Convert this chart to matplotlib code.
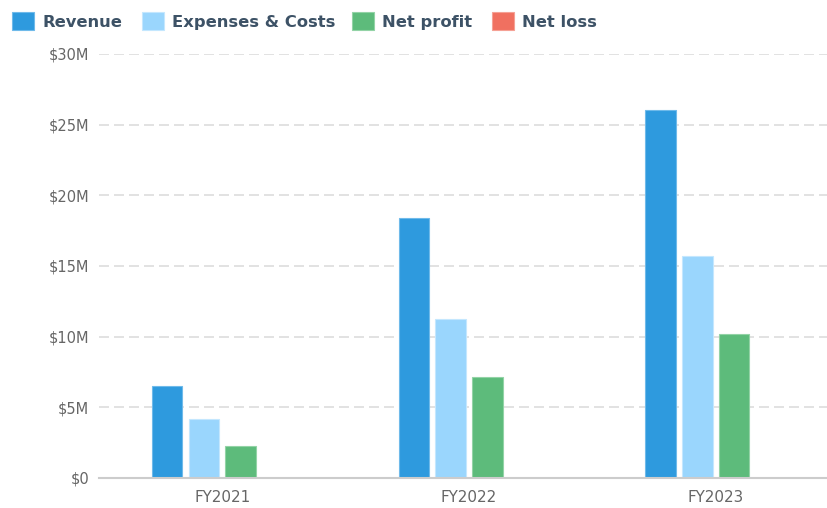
import numpy as np
import matplotlib.pyplot as plt
from matplotlib.patches import Rectangle
from matplotlib.ticker import FuncFormatter

plt.rcParams['font.family'] = ['DejaVu Sans']

# Values in millions of dollars
years = ['FY2021', 'FY2022', 'FY2023']
revenue = [6.5, 18.4, 26.05]
expenses = [4.17, 11.28, 15.72]
net_profit = [2.27, 7.15, 10.2]
net_loss = [0, 0, 0]

series = ['Revenue', 'Expenses & Costs', 'Net profit', 'Net loss']
colors = ['#2E9ADE', '#9AD6FD', '#5DBB7B', '#F07060']
edges = ['#6FBAEA', '#C4E7FE', '#93D3A6', '#F5A195']

W, H = 828, 508
fig = plt.figure(figsize=(W / 100, H / 100), dpi=100)
# the band scale runs slightly past the right edge of the picture
ax = fig.add_axes([99 / W, 1 - 478 / H, 740 / W, (478 - 54) / H])

x = np.arange(len(years))
slot = 0.149
width = 0.124
for i, vals in enumerate([revenue, expenses, net_profit, net_loss]):
    ax.bar(x + (i - 1.5) * slot, vals, width, color=colors[i], edgecolor=edges[i],
           linewidth=0.8, zorder=3)

ax.set_xlim(-0.5, 2.5)
ax.set_ylim(0, 30)
ax.set_yticks(range(0, 31, 5))
ax.yaxis.set_major_formatter(FuncFormatter(lambda v, p: '$0' if v == 0 else f'${v:.0f}M'))
ax.set_xticks(x)
ax.set_xticklabels(years)
ax.tick_params(axis='both', length=0, labelcolor='#666666')
ax.tick_params(axis='x', pad=9, labelsize=10.9)
ax.tick_params(axis='y', pad=7, labelsize=10.5)
ax.grid(axis='y', color='#DDDDDD', linestyle=(0, (6, 3)), linewidth=1.2, zorder=0)
for s in ['top', 'right', 'left']:
    ax.spines[s].set_visible(False)
ax.spines['bottom'].set_color('#CCCCCC')
ax.spines['bottom'].set_linewidth(1.5)
ax.spines['bottom'].set_zorder(4)

# legend drawn by hand, in pixel positions from the top-left corner
legend_x = [12, 142, 352, 492]
for lx, name, c, e in zip(legend_x, series, colors, edges):
    fig.patches.append(Rectangle((lx / W, 1 - 29.5 / H), 22 / W, 17 / H,
                                 transform=fig.transFigure, facecolor=c,
                                 edgecolor=e, linewidth=0.8))
    fig.text((lx + 30) / W, 1 - 22.5 / H, name, fontsize=11.8, fontweight='bold',
             color='#3D5266', va='center', ha='left')

fig.savefig('out.png', dpi=100)
